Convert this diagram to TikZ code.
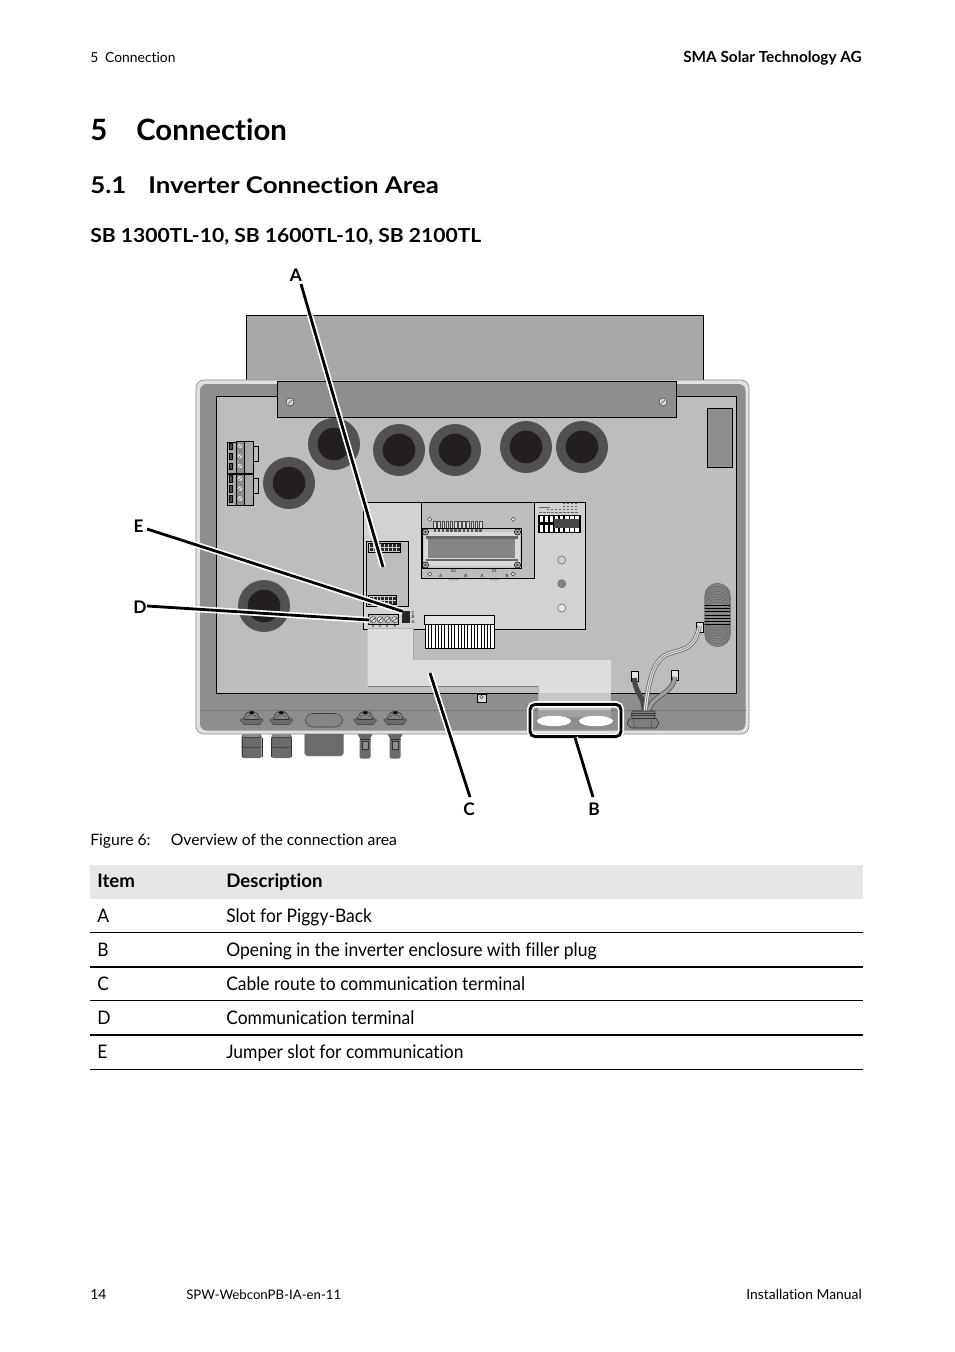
\documentclass[tikz,border=0pt]{standalone}
\usepackage{fontspec}
\setmainfont{Lato}[Ligatures=NoCommon]
\newfontfamily\bodyfam[FakeStretch=0.935,Ligatures=NoCommon]{Lato}
\newfontfamily\captfam[FakeStretch=1.0,Ligatures=NoCommon]{Lato}
\newfontfamily\hcfam[FakeStretch=1.12,Ligatures=NoCommon]{Lato}
\newfontfamily\hdfam[FakeStretch=1.09,Ligatures=NoCommon]{Lato}
\usetikzlibrary{calc}
\definecolor{flapc}{HTML}{A9A7A8}
\definecolor{brk}{HTML}{8F8D8E}
\definecolor{panelc}{HTML}{BDBDBD}
\definecolor{boardc}{HTML}{D2D2D2}
\definecolor{ringc}{HTML}{525051}
\definecolor{holec}{HTML}{231F20}
\definecolor{routec}{HTML}{DDDDDD}
\definecolor{bandc}{HTML}{E6E6E6}
\tikzset{
  x=0.75pt,y=-0.75pt,
  txt/.style={anchor=base west,inner sep=0,text=black},
  tsmall/.style={txt,font=\fontsize{10.4}{12}\selectfont},
  tfoot/.style={txt,font=\fontsize{9.9}{12}\selectfont},
  tbody/.style={txt,font=\bodyfam\fontsize{14}{16}\selectfont},
  tcap/.style={txt,font=\captfam\fontsize{11.8}{14}\selectfont},
  tbold/.style={txt,font=\fontsize{14}{16}\selectfont\bfseries},
  letter/.style={inner sep=0,font=\fontsize{13}{15}\selectfont\bfseries},
  tiny/.style={inner sep=0,font=\fontsize{3.2}{4}\selectfont\bfseries,text=black!75},
  ol/.style={draw=black,line width=0.6pt},
  halo/.style={draw=white,line width=4.6pt},
  lead/.style={draw=black,line width=2.1pt},
  rowthin/.style={draw=black,line width=0.5pt},
  rowthick/.style={draw=black,line width=0.9pt},
}
\newcommand{\gromm}[2]{\fill[ringc] (#1,#2) circle[radius=26];\fill[holec] (#1,#2) circle[radius=16.3];}
\newcommand{\termblk}[1]{%
  \begin{scope}[yshift={-0.75pt*#1}]
  \draw[ol,fill=panelc] (253,446)rectangle(258,461);
  \draw[ol,fill=flapc] (227,442)rectangle(236,473);
  \draw[ol,fill=black!45] (236,441.5)rectangle(244,473);
  \draw[ol,fill=flapc] (244,441.5)rectangle(253,473);
  \foreach \yy in {446,456,466}{\draw[line width=0.4pt,fill=black!70] (229.5,\yy-3)rectangle(232.5,\yy+3.5);\draw[line width=0.35pt,black!60,fill=black!15] (240,\yy)circle[radius=3];\draw[line width=0.3pt,black!60] (238.5,\yy+1.5)--(241.5,\yy-1.5);}
  \end{scope}}
\newcommand{\topconn}[1]{%
  \draw[line width=0.4pt,draw=black!70,fill=black!58] (#1-11.5,720)--(#1-7,717)--(#1+7,717)--(#1+11.5,720)--(#1+8,724.5)--(#1-8,724.5)--cycle;
  \draw[line width=0.4pt,draw=black!80,fill=black!48] (#1-7.5,719.5) .. controls (#1-7,713) and (#1-4,711.5) .. (#1,711.5) .. controls (#1+4,711.5) and (#1+7,713) .. (#1+7.5,719.5) --cycle;
  \draw[line width=0.4pt,black!70] (#1-5,718) -- (#1-3,715) -- (#1+3,715) -- (#1+5,718);
  \fill[black] (#1,712.7) ellipse[x radius=2.5,y radius=1.4];}
\newcommand{\fatplug}[1]{%
  \fill[black!58,rounded corners=1.5pt] (#1-10,734)--(#1+10,734)--(#1+10,758)--(#1-10,758)--cycle;
  \fill[black!45] (#1-8.5,734) rectangle (#1+8.5,737);
  \draw[line width=0.4pt,black!80] (#1-10,737) .. controls (#1-5,738) and (#1+5,738) .. (#1+10,737);
  \draw[line width=0.4pt,black!80] (#1-10,747) .. controls (#1-5,748) and (#1+5,748) .. (#1+10,747);
  \draw[line width=0.3pt,black!80] (#1-10,738)--(#1-10,757) (#1+10,738)--(#1+10,757);}
\newcommand{\thinplug}[1]{%
  \fill[black!60] (#1-7.5,734)--(#1+7.5,734)--(#1+5,739)--(#1-5,739)--cycle;
  \fill[black!58,rounded corners=1pt] (#1-5.5,739)rectangle(#1+5.5,758.5);
  \draw[line width=0.4pt,black!80,fill=black!45] (#1-3.2,741.5)rectangle(#1+3.2,749.5);
  \draw[line width=0.3pt,black!80] (#1-5.5,739)--(#1+5.5,739);}
\newcommand{\diam}[2]{\draw[line width=0.35pt,black!80,fill=white] (#1-2,#2)--(#1,#2-2)--(#1+2,#2)--(#1,#2+2)--cycle;}
\newcommand{\scr}[2]{\draw[line width=0.4pt,black,fill=black!30] (#1,#2)circle[radius=3.1];\fill[black!75] (#1,#2)circle[radius=1.3];}
\begin{document}
\begin{tikzpicture}
\useasboundingbox (0,0) rectangle (954,1352);
\fill[white] (0,0) rectangle (954,1352);
% page text
\node[tsmall] (hdl) at (90,63) {5\hspace{0.5em}Connection};
\node[txt,anchor=base east,font=\fontsize{11.5}{12}\selectfont\bfseries] (hdr) at (862,63) {SMA Solar Technology AG};
\node[txt,font=\fontsize{22}{26}\selectfont\bfseries] (h1) at (90,141) {\makebox[34.5pt][l]{5}Connection};
\node[txt,font=\hcfam\fontsize{17.3}{21}\selectfont\bfseries] (h2) at (90,193) {\makebox[43.5pt][l]{5.1}Inverter Connection Area};
\node[txt,font=\hdfam\fontsize{14.5}{17}\selectfont\bfseries] (h3) at (90,242) {SB 1300TL-10, SB 1600TL-10, SB 2100TL};
% flap
\draw[ol,fill=flapc] (246,315) rectangle (703,381);
% enclosure
\draw[draw=black!45,line width=0.5pt,fill=black!12,rounded corners=6pt] (196,380) rectangle (749,734);
\fill[brk,rounded corners=5pt] (200,384) rectangle (745.5,730.5);
\draw[draw=black!55,line width=0.5pt] (200,710) -- (745.5,710);
\draw[ol,fill=panelc] (216,396) rectangle (736,693);
% bracket
\draw[ol,fill=brk] (277,381) rectangle (676,417);
\foreach \sx in {290,663}{\draw[line width=0.35pt,black!80,fill=black!15] (\sx,402)circle[radius=4];\draw[line width=0.35pt,black!70] (\sx-2,404)--(\sx+2,400);}
% grommets
\gromm{334}{444}\gromm{399}{450}\gromm{455}{450}\gromm{526}{447}\gromm{582}{447}\gromm{289}{483}\gromm{264}{606}
% right rect
\draw[ol,fill=brk] (707,408) rectangle (732,467);
% terminals
\termblk{0}\termblk{32.5}
% board
\draw[ol,fill=boardc] (363,502) rectangle (585.5,629);
% display module
\draw[ol,fill=panelc] (421.3,502) rectangle (534.3,578.3);
\foreach \i in {0,...,11}{\draw[line width=0.35pt,black!70,fill=white!85!black] (433.5+\i*4.15,521.5) rectangle +(2.6,11.5);}
\draw[ol,fill=panelc!90!white] (422,528) rectangle (521.7,568.7);
\foreach \i in {0,...,11}{\fill[black!65] (433.5+\i*4.15,528.5) rectangle +(2.6,3.5);}
\fill[black!15] (424,532) rectangle (520,566);
\fill[black!60] (426,536) rectangle (518,538.5);
\fill[black!60] (426,558.5) rectangle (518,561);
\fill[black!48] (428,539) rectangle (515,558);
\scr{425.5}{532}\scr{517.5}{532}\scr{425.5}{565}\scr{517.5}{565}
\diam{429.7}{519.3}\diam{513.3}{519.3}\diam{429.7}{574}\diam{513.3}{574}
\node[tiny] (s2) at (453.5,571) {S2};
\node[tiny] (s1) at (494.5,571) {S1};
\node[tiny] (a1) at (440.7,575.8) {A};
\node[tiny] (b1) at (465.7,575.8) {B};
\node[tiny] (a2) at (482,575.8) {A};
\node[tiny] (b2) at (507,575.8) {B};
\foreach \ax in {453.5,494.5}{\draw[line width=0.5pt,black!45] (\ax-6,578.8) .. controls (\ax-2,580.5) and (\ax+2,580.5) .. (\ax+6,578.8);}
% dip switch
\draw[ol,fill=black] (538.3,515) rectangle (580,532.7);
\foreach \i in {0,...,7}{\fill[white] (539.6+\i*5.1,516) rectangle +(3.4,15.8);}
\foreach \i in {0,...,2}{\fill[black] (538.6+\i*5.1,522.3) rectangle +(5.1,3);}
\foreach \i in {3,...,7}{\fill[black!72] (538.6+\i*5.1,519) rectangle +(5.1,8.5);}
\foreach \i in {0,...,9}{\draw[line width=0.5pt,black!60] (538.5+\i*4,512.5) -- +(3,0);}
\foreach \i in {2,...,9}{\draw[line width=0.5pt,black!60] (538.5+\i*4,509.5) -- +(2.6,0);}
\foreach \i in {6,...,9}{\draw[line width=0.5pt,black!60] (538.5+\i*4,506.5) -- +(2.6,0);\draw[line width=0.5pt,black!60] (538.5+\i*4,503.5) -- +(2.6,0);}
\draw[line width=0.5pt,black!60] (539,507.5) -- +(11,0);
% LEDs
\draw[line width=0.4pt,black!60,fill=boardc] (561.7,560) circle[radius=4];
\draw[line width=0.4pt,black!60,fill=black!50] (561.7,583.7) circle[radius=4];
\draw[line width=0.4pt,black!60,fill=white!90!black] (561.7,608) circle[radius=4];
% piggyback slot
\draw[ol,fill=panelc] (366.3,541.3) rectangle (408.7,606.3);
\draw[ol,fill=panelc!80!white] (368.7,543.3) rectangle (400.6,552.3);
\foreach \i in {0,...,7}\foreach \j in {0,1}{\fill[black!85] (369.7+\i*3.9,544.2+\j*4.2) rectangle +(2.9,3);}
\draw[ol,fill=panelc!80!white] (368.7,595.7) rectangle (396.7,604.7);
\foreach \i in {0,...,6}\foreach \j in {0,1}{\fill[black!85] (369.7+\i*3.9,596.6+\j*4.2) rectangle +(2.9,3);}
% jumpers and comm terminal
\foreach \i in {0,1}\foreach \j in {0,1,2}{\fill[black!85] (402+\i*4,611+\j*4) rectangle +(3.6,3.6);}
\node[tiny] (j3) at (413,612.5) {C};
\node[tiny] (j2) at (413,617) {B};
\node[tiny] (j1) at (413,621.5) {A};
% cable route
\fill[routec] (367.5,628) -- (413.5,628) -- (413.5,660) -- (611,660) -- (611,693) -- (538,693) -- (538,686) -- (367.5,686) -- cycle;
\draw[draw=black!30,line width=0.4pt] (367.5,628) -- (413.5,628);
\draw[draw=black!35,line width=0.5pt] (413.5,629) -- (413.5,660);
\fill[panelc!85!white] (538,693) rectangle (611,710);
\fill[panelc!85!black] (538,710) rectangle (611,717);
\draw[draw=black!50,line width=0.4pt] (367.5,686) -- (538,686);
\draw[draw=black!30,line width=0.4pt] (538,686) -- (538,710);
\draw[ol] (216,693) -- (538,693);
\draw[ol,fill=panelc] (368.3,614.7) rectangle (398.7,624.7);
\foreach \i in {0,...,3}{\draw[line width=0.4pt,black!70,fill=black!10] (373+\i*7.3,619.7) circle[radius=3.1];\draw[line width=0.35pt,black] (371+\i*7.3,621.5) -- (375+\i*7.3,618);\fill[black!50] (371.6+\i*7.3,625) rectangle +(2,2);}
% connector
\draw[ol,fill=white!90!black] (424.3,615.3) rectangle (494.3,624);
\draw[line width=0.5pt,black,fill=white] (425,624) rectangle (494,648);
\foreach \i in {1,...,20}{\draw[line width=0.45pt,black] (425+\i*3.286,624) -- +(0,24);}
% small square
\draw[ol,fill=black!15] (477,694) rectangle (486,702);
\draw[line width=0.35pt,black!70] (481.5,697) circle[radius=1.8];
% openings
\foreach \ex in {554,596}{
  \draw[draw=black!35,line width=0.7pt] (\ex-16,719.5) arc[start angle=180,end angle=0,x radius=16,y radius=5.5];
  \fill[white] (\ex,721) ellipse[x radius=17,y radius=5.2];}
% bottom connectors
\topconn{251.7}\topconn{281.3}\topconn{365.3}\topconn{395.3}
\draw[line width=0.4pt,black!75,fill=black!48,rounded corners=5.5pt] (305.5,713.5) rectangle (342.5,727);
\fatplug{251.7}\fatplug{281.5}
\draw[line width=0.3pt,black!45,fill=black!58,rounded corners=2.5pt] (304.5,734) -- (304.5,756) -- (343.5,756) -- (343.5,734);
\thinplug{365}\thinplug{395}
% coil
\begin{scope}
\path[clip,rounded corners=9.5pt] (704.7,583.3) rectangle (730.3,646.7);
\fill[black!48] (704,583) rectangle (731,647);
\foreach \i in {0,...,6}{\draw[line width=0.4pt,black!62] (704,588+\i*2.6+5) .. controls (712,584+\i*2.6) and (723,584+\i*2.6) .. (731,588+\i*2.6+5);}
\foreach \i in {0,...,6}{\draw[line width=0.4pt,black!62] (704,642-\i*2.6-5) .. controls (712,646-\i*2.6) and (723,646-\i*2.6) .. (731,642-\i*2.6-5);}
\foreach \i in {0,...,6}{\draw[line width=0.55pt,black] (704,605+\i*3.3) -- (731,605+\i*3.3);}
\end{scope}
\draw[line width=0.3pt,black!65,rounded corners=9.5pt] (704.7,583.3) rectangle (730.3,646.7);
% wires
\draw[ol,fill=black!10] (696,622.5) rectangle (703,632);
\draw[ol,fill=black!10] (631,671) rectangle (638,681);
\draw[ol,fill=black!10] (671,670) rectangle (678,680);
\draw[black!72,line width=3.7pt] (634.5,678) .. controls (634,693) and (645,695) .. (644,713);
\draw[black!65,line width=3.7pt] (675,677) .. controls (672,696) and (651,694) .. (648,713);
\draw[black!38,line width=2.4pt] (675,677) .. controls (672,696) and (651,694) .. (648,713);
\draw[black!60,line width=3.6pt] (699.5,626) .. controls (694,650) and (685,648) .. (668,654) .. controls (652,660) and (648,685) .. (645,713);
\draw[black!12,line width=2.4pt] (699.5,626) .. controls (694,650) and (685,648) .. (668,654) .. controls (652,660) and (648,685) .. (645,713);
\draw[black!50,line width=0.5pt] (699.5,626) .. controls (694,650) and (685,648) .. (668,654) .. controls (652,660) and (648,685) .. (645,713);
% gland
\draw[line width=0.4pt,black!85,fill=black!50,rounded corners=1.5pt] (631.7,711) rectangle (655,719);
\foreach \gy in {713,715.5,718}{\draw[line width=0.4pt,black!80] (631.7,\gy) -- (655,\gy);}
\draw[line width=0.4pt,black!85,fill=black!50] (629,719) -- (656,718.5) -- (659,723) -- (656,728) -- (631,728) -- (627,724) -- cycle;
\draw[line width=0.35pt,black!70] (633,719) -- (635,728) (652,719) -- (651,728);
% B frame
\draw[draw=white,line width=4.8pt,rounded corners=4pt] (530,704.3) rectangle (621,736.7);
\draw[draw=black,line width=2.2pt,rounded corners=4pt] (530,704.3) rectangle (621,736.7);
% leaders
\node[letter] (la) at (296,275) {A};
\node[letter] (le) at (138.5,526) {E};
\node[letter] (ld) at (140,607) {D};
\node[letter] (lc) at (469,809) {C};
\node[letter] (lb) at (594,809) {B};
\coordinate (ea) at (383,567);
\coordinate (ee) at (403,611.5);
\coordinate (ed) at (369,620);
\coordinate (ec) at (430,673);
\coordinate (eb) at (575,737.5);
\foreach \st/\en in {{(301,284)}/ea,{(147,529)}/ee,{(147,606)}/ed,{(470,797)}/ec,{(593,797)}/eb}{
  \draw[halo] \st -- (\en);
  \draw[lead] \st -- (\en);
}
% caption
\node[tcap] (cap1) at (90,845) {Figure 6:};
\node[tcap] (cap2) at (170.5,845) {Overview of the connection area};
% table
\fill[bandc] (90,865) rectangle (863,899);
\node[tbold] (ti) at (97,887) {Item};
\node[tbold] (td) at (226,887) {Description};
\node[tbody] (r1a) at (97,922) {A};
\node[tbody] (r1b) at (226,922) {Slot for Piggy-Back};
\node[tbody] (r2a) at (97,956) {B};
\node[tbody] (r2b) at (226,956) {Opening in the inverter enclosure with filler plug};
\node[tbody] (r3a) at (97,990) {C};
\node[tbody] (r3b) at (226,990) {Cable route to communication terminal};
\node[tbody] (r4a) at (97,1024) {D};
\node[tbody] (r4b) at (226,1024) {Communication terminal};
\node[tbody] (r5a) at (97,1058) {E};
\node[tbody] (r5b) at (226,1058) {Jumper slot for communication};
\draw[rowthin] (90,932.7) -- (863,932.7);
\draw[rowthick] (90,967) -- (863,967);
\draw[rowthin] (90,1000.7) -- (863,1000.7);
\draw[rowthick] (90,1035) -- (863,1035);
\draw[rowthin] (90,1069.5) -- (863,1069.5);
% footer
\node[tsmall] (f1) at (90,1299) {14};
\node[tfoot] (f2) at (186,1299) {SPW-WebconPB-IA-en-11};
\node[tsmall,anchor=base east] (f3) at (862,1299) {Installation Manual};
\end{tikzpicture}
\end{document}
